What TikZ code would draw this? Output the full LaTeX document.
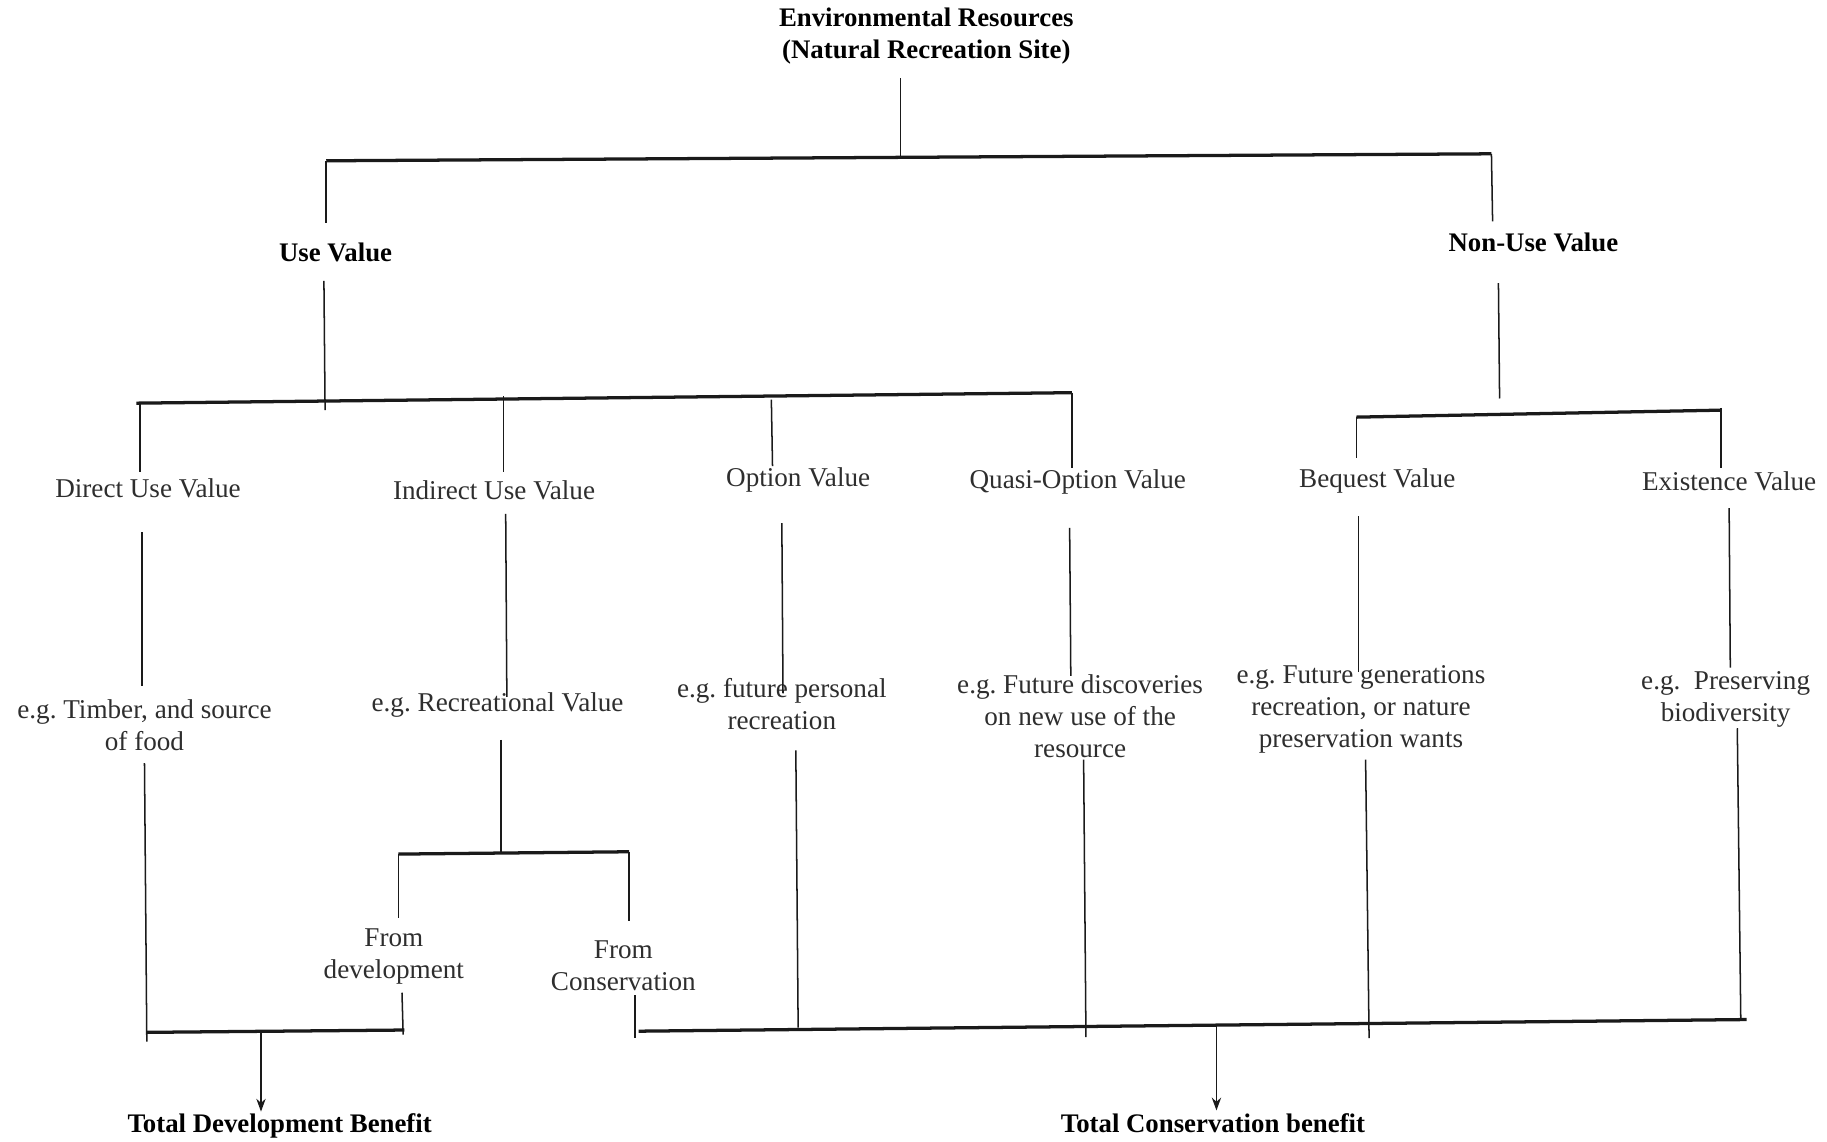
\documentclass[tikz,border=0pt]{standalone}
\usepackage{fontspec}
\setmainfont{Liberation Serif}
\usetikzlibrary{arrows.meta}
\definecolor{txtgray}{HTML}{2E2E2E}
\definecolor{linegray}{HTML}{1A1A1A}
\tikzset{
  lbl/.style={font=\fontsize{23.3}{27.5}\selectfont\frenchspacing, text=txtgray, align=center, inner sep=0pt},
  bld/.style={font=\fontsize{23}{27.5}\selectfont\bfseries\frenchspacing, text=black, align=center, inner sep=0pt},
  ln/.style={draw=linegray, line width=1.3pt},
  barline/.style={draw=linegray, line width=2.8pt},
  arr/.style={draw=linegray, line width=1.3pt, -{Stealth[length=11pt,width=8pt]}}
}
\begin{document}
\begin{tikzpicture}[x=1pt,y=-1pt]
\useasboundingbox (0,0) rectangle (1568,980);
\fill[white] (0,0) rectangle (1568,980);

% ---------- text nodes ----------
\node[bld] (env) at (795,31) {Environmental Resources\\(Natural Recreation Site)};
\node[bld] (use) at (288,217) {Use Value};
\node[bld] (nonuse) at (1316,208) {Non-Use Value};

\node[lbl] (du) at (127,419) {Direct Use Value};
\node[lbl] (iu) at (424,421) {Indirect Use Value};
\node[lbl] (ov) at (685,412) {Option Value};
\node[lbl] (qov) at (925,414) {Quasi-Option Value};
\node[lbl] (bv) at (1182,413) {Bequest Value};
\node[lbl] (ev) at (1484,413) {Existence Value};

\node[lbl] (ex1) at (124,622) {e.g. Timber, and source\\of food};
\node[lbl] (ex2) at (427,605) {e.g. Recreational Value};
\node[lbl] (ex3) at (671,604) {e.g. future personal\\recreation};
\node[lbl] (ex4) at (927,615) {e.g. Future discoveries\\on new use of the\\resource};
\node[lbl] (ex5) at (1168,609) {e.g. Future generations\\recreation, or nature\\preservation wants};
\node[lbl] (ex6) at (1481,600) {e.g.\ \ Preserving\\biodiversity};

\node[lbl] (fd) at (338,821) {From\\development};
\node[lbl] (fc) at (535,829) {From\\Conservation};

\node[bld] (tdb) at (240,966) {Total Development Benefit};
\node[bld] (tcb) at (1041,964) {Total Conservation benefit};

% ---------- coordinates ----------
\coordinate (envB) at (773,67);
\coordinate (topJ) at (773,135);
\coordinate (tbL) at (280,138);
\coordinate (tbR) at (1280,132);
\coordinate (useT) at (280,191);
\coordinate (nonT) at (1281,190);

\coordinate (useB) at (278,241);
\coordinate (useJ) at (279,352);
\coordinate (b2L) at (117,346);
\coordinate (b2R) at (920,337);
\coordinate (duJ) at (120,346);  \coordinate (duT) at (120,405);
\coordinate (iuJ) at (432,340);  \coordinate (iuT) at (432,405);
\coordinate (ovJ) at (662,343);  \coordinate (ovT) at (663,400);
\coordinate (qovJ) at (920,337); \coordinate (qovT) at (920,402);

\coordinate (nonB) at (1286,243);
\coordinate (nonJ) at (1287,342);
\coordinate (b3L) at (1164,358);
\coordinate (b3R) at (1477,352);
\coordinate (bvT) at (1164,393);
\coordinate (evJ) at (1477,350); \coordinate (evT) at (1477,402);

\coordinate (duB) at (122,457);  \coordinate (ex1T) at (122,589);
\coordinate (iuB) at (434,441);  \coordinate (ex2T) at (435,598);
\coordinate (ovB) at (671,449);  \coordinate (ex3T) at (672,595);
\coordinate (qovB) at (918,453); \coordinate (ex4T) at (919,580);
\coordinate (bvB) at (1166,443); \coordinate (ex5T) at (1166,577);
\coordinate (evB) at (1484,436); \coordinate (ex6T) at (1485,573);

\coordinate (ex1B) at (124,655);  \coordinate (ex1E) at (126,894);
\coordinate (ex2B) at (430,635);  \coordinate (recJ) at (430,732);
\coordinate (ex3B) at (683,644);  \coordinate (ex3E) at (685,882);
\coordinate (ex4B) at (930,652);  \coordinate (ex4E) at (932,890);
\coordinate (ex5B) at (1172,652); \coordinate (ex5E) at (1175,891);
\coordinate (ex6B) at (1491,625); \coordinate (ex6E) at (1494,875);

\coordinate (recL) at (342,733);
\coordinate (recR) at (540,731);
\coordinate (fdT) at (342,788);
\coordinate (fcT) at (540,790);
\coordinate (fdB) at (345,852);  \coordinate (fdE) at (346,888);
\coordinate (fcB) at (545,854);  \coordinate (fcE) at (545,891);

\coordinate (devL) at (126,886);
\coordinate (devR) at (347,884);
\coordinate (devJ) at (224,885.6);
\coordinate (conL) at (548,885);
\coordinate (conR) at (1499,875);
\coordinate (conJ) at (1044,880.3);
\coordinate (tdbT) at (224,954);
\coordinate (tcbT) at (1044,953);

% ---------- connectors ----------
\draw[ln] (envB) -- (topJ);
\draw[barline] (tbL) -- (tbR);
\draw[ln] (tbL) -- (useT);
\draw[ln] (tbR) -- (nonT);

\draw[ln] (useB) -- (useJ);
\draw[barline] (b2L) -- (b2R);
\draw[ln] (duJ) -- (duT);
\draw[ln] (iuJ) -- (iuT);
\draw[ln] (ovJ) -- (ovT);
\draw[ln] (qovJ) -- (qovT);

\draw[ln] (nonB) -- (nonJ);
\draw[barline] (b3L) -- (b3R);
\draw[ln] (b3L) -- (bvT);
\draw[ln] (evJ) -- (evT);

\draw[ln] (duB) -- (ex1T);
\draw[ln] (iuB) -- (ex2T);
\draw[ln] (ovB) -- (ex3T);
\draw[ln] (qovB) -- (ex4T);
\draw[ln] (bvB) -- (ex5T);
\draw[ln] (evB) -- (ex6T);

\draw[ln] (ex1B) -- (ex1E);
\draw[ln] (ex2B) -- (recJ);
\draw[ln] (ex3B) -- (ex3E);
\draw[ln] (ex4B) -- (ex4E);
\draw[ln] (ex5B) -- (ex5E);
\draw[ln] (ex6B) -- (ex6E);

\draw[barline] (recL) -- (recR);
\draw[ln] (recL) -- (fdT);
\draw[ln] (recR) -- (fcT);
\draw[ln] (fdB) -- (fdE);
\draw[ln] (fcB) -- (fcE);

\draw[barline] (devL) -- (devR);
\draw[barline] (conL) -- (conR);
\draw[arr] (devJ) -- (tdbT);
\draw[arr] (conJ) -- (tcbT);
\end{tikzpicture}
\end{document}
